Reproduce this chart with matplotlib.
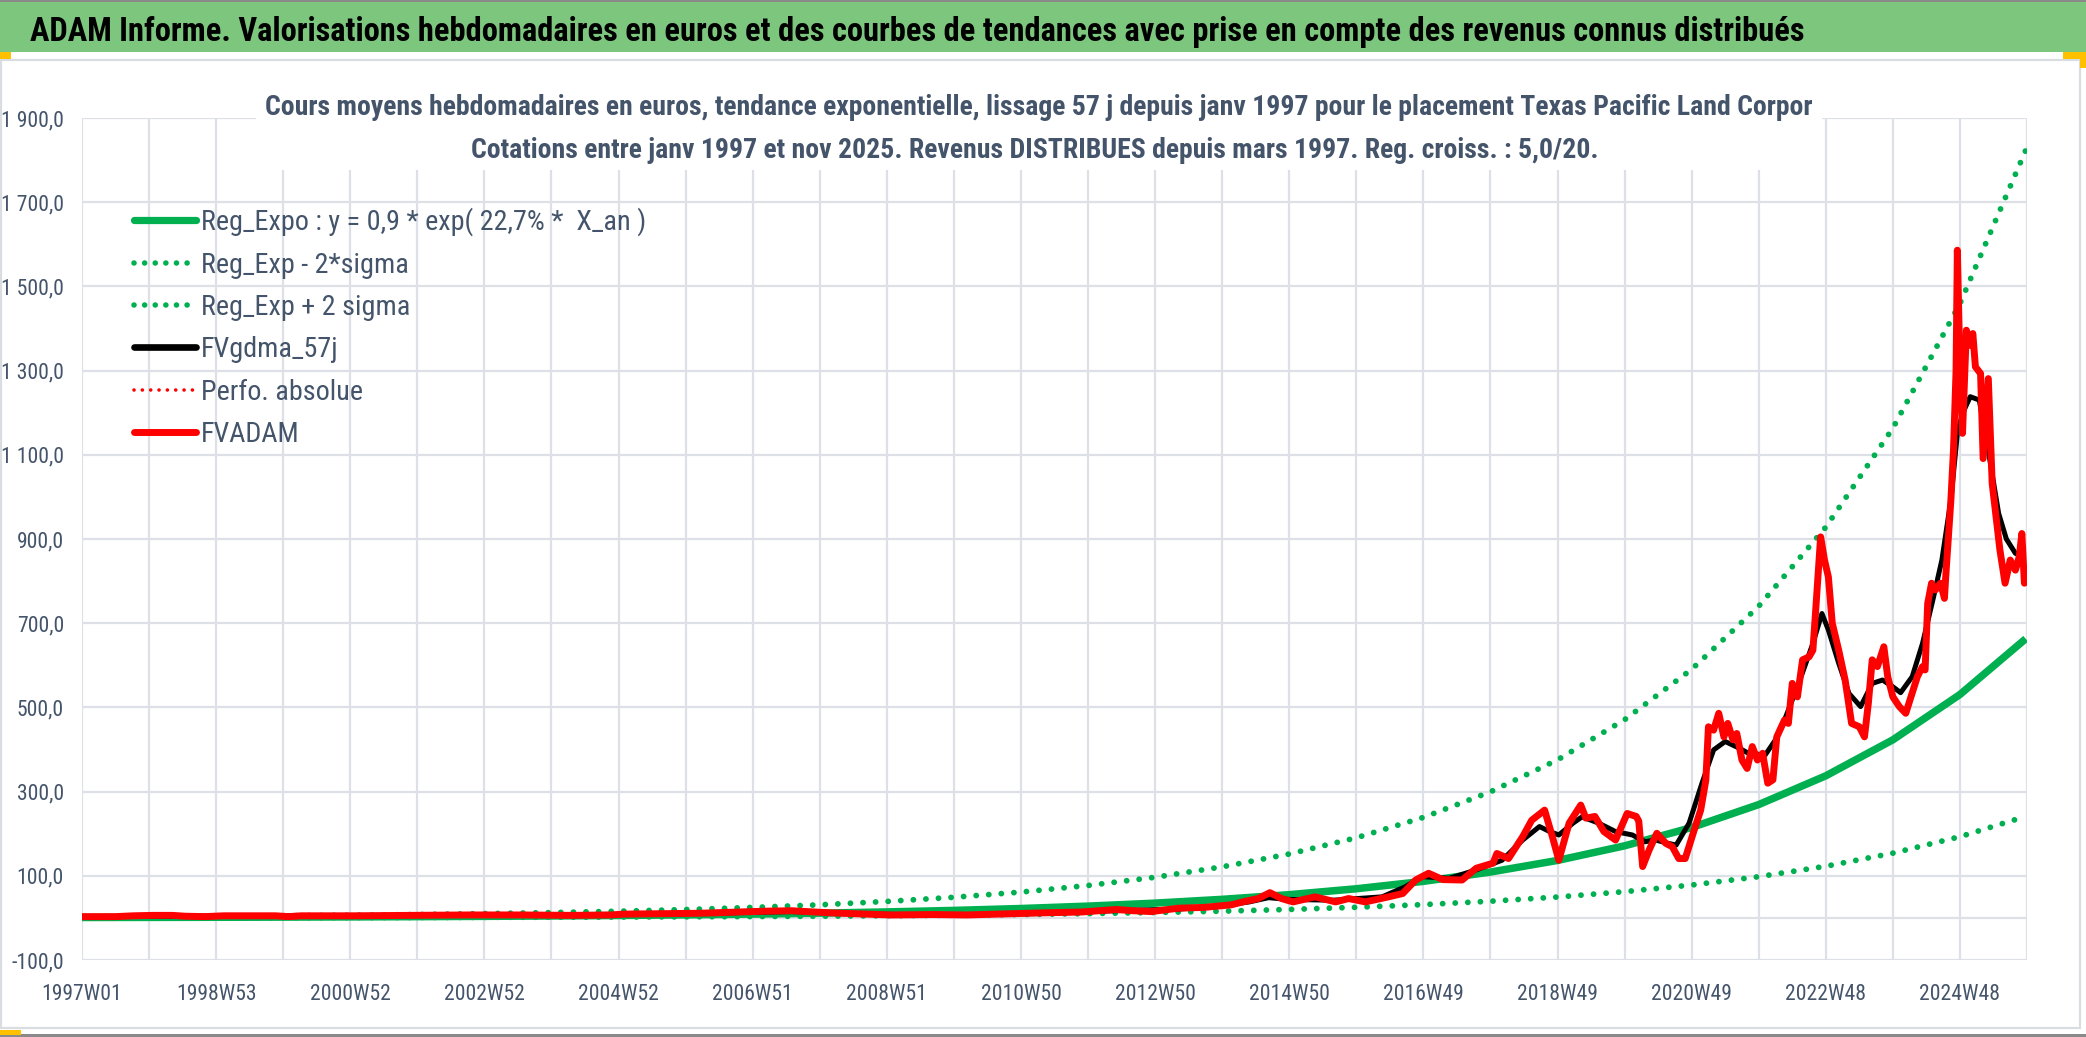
import matplotlib
matplotlib.use("Agg")
import matplotlib.pyplot as plt
from matplotlib import font_manager as fm
from matplotlib.patches import Rectangle
from matplotlib.lines import Line2D

# ---------------- data ----------------
title = ("ADAM Informe. Valorisations hebdomadaires en euros et des courbes de tendances "
         "avec prise en compte des revenus connus distribués")
subtitle1 = ("Cours moyens hebdomadaires en euros, tendance exponentielle, lissage 57 j depuis "
             "janv 1997 pour le placement Texas Pacific Land Corpor")
subtitle2 = ("Cotations entre janv 1997 et nov 2025. Revenus DISTRIBUES depuis mars 1997. "
             "Reg. croiss. : 5,0/20.")

legend_labels = ["Reg_Expo : y = 0,9 * exp( 22,7% *  X_an )", "Reg_Exp - 2*sigma",
                 "Reg_Exp + 2 sigma", "FVgdma_57j", "Perfo. absolue", "FVADAM"]

# x tick labels (weekly category axis, one label every 104 weeks)
xtick_pos = [0, 104, 208, 312, 416, 520, 624, 728, 832, 936, 1040, 1144, 1248, 1352, 1456]
xtick_labels = ["1997W01", "1998W53", "2000W52", "2002W52", "2004W52", "2006W51", "2008W51",
                "2010W50", "2012W50", "2014W50", "2016W49", "2018W49", "2020W49", "2022W48",
                "2024W48"]
ytick_vals = [-100, 100, 300, 500, 700, 900, 1100, 1300, 1500, 1700, 1900]

# trend curves read at yearly week indices
trend_weeks = [0, 52, 104, 156, 208, 260, 312, 364, 416, 468, 520, 572, 624, 676, 728, 780,
               832, 884, 936, 988, 1040, 1092, 1144, 1196, 1248, 1300, 1352, 1404, 1456, 1507]
reg_expo = [0.94, 1.18, 1.48, 1.86, 2.33, 2.92, 3.66, 4.59, 5.75, 7.21, 9.05, 11.3, 14.2, 17.8,
            22.3, 28.0, 35.1, 44.1, 55.2, 69.2, 86.8, 108.9, 136.5, 171.2, 214.7, 269.2, 337.5,
            423.0, 530.6, 663.0]
reg_minus = [0.34, 0.43, 0.54, 0.68, 0.85, 1.06, 1.33, 1.67, 2.09, 2.62, 3.29, 4.11, 5.16, 6.47,
             8.11, 10.2, 12.8, 16.0, 20.1, 25.2, 31.6, 39.6, 49.6, 62.3, 78.1, 97.9, 122.7,
             153.8, 192.9, 241.1]
reg_plus = [2.6, 3.2, 4.1, 5.1, 6.4, 8.0, 10.1, 12.6, 15.8, 19.8, 24.9, 31.1, 39.1, 49.0, 61.3,
            77.0, 96.5, 121.3, 151.8, 190.3, 238.7, 299.5, 375.4, 470.8, 590.4, 740.3, 928.1,
            1163.3, 1459.2, 1823.3]

# FVADAM weekly valuation (read at selected weeks)
fv_weeks = [0, 26, 40, 55, 70, 80, 95, 110, 150, 160, 170, 210, 260, 300, 340, 380, 410, 420,
            450, 479, 510, 530, 550, 580, 609, 627, 660, 686, 720, 745, 775, 802, 815, 829, 850,
            870, 891, 900, 912, 921, 930, 939, 956, 972, 982, 995, 1013, 1024, 1034, 1044, 1055,
            1070, 1081, 1094, 1097, 1106, 1117, 1124, 1134, 1140, 1145, 1153, 1162, 1166, 1173,
            1180, 1189, 1198, 1205, 1207, 1210, 1215, 1221, 1228, 1233, 1238, 1243, 1250, 1255,
            1259, 1261, 1265, 1269, 1273, 1276, 1280, 1283, 1287, 1291, 1295, 1299, 1303, 1307,
            1311, 1314, 1320, 1323, 1326, 1330, 1334, 1339, 1342, 1344, 1348, 1351, 1354, 1357,
            1362, 1367, 1372, 1378, 1382, 1385, 1388, 1392, 1397, 1400, 1404, 1409, 1414, 1418,
            1423, 1427, 1429, 1431, 1434, 1437, 1441, 1444, 1445, 1449, 1451, 1453, 1454, 1456,
            1458, 1461, 1464, 1466, 1468, 1472, 1474, 1478, 1481, 1484, 1487, 1491, 1495, 1499,
            1502, 1504, 1506, 1507]
fv_values = [3, 3, 5, 6, 6, 4, 3, 5, 5, 3, 5, 5, 6, 7, 7, 6, 7, 9,
             10, 11, 14, 16, 17, 12, 9, 7, 8, 7, 10, 12, 14, 20, 17, 15, 23,
             25, 31, 38, 46, 60, 46, 38, 50, 38, 46, 38, 50, 58, 90, 106, 91,
             90, 118, 130, 153, 141, 193, 232, 256, 193, 137, 225, 268, 237, 241,
             205, 185, 248, 241, 230, 122, 161, 201, 177, 169, 141, 141, 209, 256,
             327, 454, 446, 486, 430, 462, 423, 438, 375, 355, 407, 375, 391, 320,
             328, 430, 470, 462, 557, 525, 613, 620, 636, 723, 905, 850, 810, 700,
             636, 565, 462, 454, 430, 510, 613, 597, 644, 573, 525, 502, 486, 525,
             573, 597, 589, 747, 795, 779, 795, 759, 811, 993, 1111, 1300, 1586, 1309,
             1151, 1396, 1360, 1388, 1309, 1293, 1091, 1281, 1032, 953, 874, 795, 850, 826,
             858, 913, 795, 800]

# FVgdma_57j smoothed valuation (read at selected weeks)
ma_weeks = [0, 100, 200, 300, 400, 450, 500, 550, 600, 650, 700, 750, 800, 850, 880, 905, 920,
            935, 970, 1008, 1026, 1039, 1060, 1081, 1101, 1117, 1130, 1138, 1145, 1156, 1163,
            1176, 1189, 1202, 1212, 1220, 1230, 1236, 1246, 1256, 1265, 1274, 1285, 1292, 1305,
            1313, 1321, 1331, 1342, 1349, 1354, 1362, 1370, 1379, 1388, 1396, 1404, 1410, 1419,
            1427, 1435, 1442, 1449, 1454, 1458, 1464, 1471, 1478, 1486, 1492, 1499, 1503]
ma_values = [3, 4, 5, 6, 7, 9, 12, 15, 10, 7, 8, 11, 17, 21, 27, 38, 48,
             44, 42, 50, 74, 98, 94, 114, 137, 185, 217, 205, 197, 225, 240,
             225, 205, 197, 181, 185, 177, 173, 225, 320, 399, 419, 403, 391, 387,
             423, 478, 557, 652, 723, 684, 605, 533, 502, 557, 565, 549, 535, 573,
             652, 755, 850, 993, 1151, 1198, 1238, 1230, 1110, 961, 900, 866, 860]

# ---------------- style ----------------
W, H, DPI = 2086, 1037, 100
GREEN = "#00B050"
RED = "#FF0000"
GRID = "#DDE1E7"
TXT = "#44546A"

avail = {f.name for f in fm.fontManager.ttflist}
cands = ["Liberation Sans Narrow", "Roboto Condensed", "Open Sans Condensed",
         "Noto Sans Condensed", "Liberation Sans"]
FONT = next((c for c in cands if c in avail), "DejaVu Sans")
plt.rcParams["font.family"] = [FONT, "DejaVu Sans"]

fig = plt.figure(figsize=(W / DPI, H / DPI), dpi=DPI)
fig.patch.set_facecolor("white")


def fx(px):
    return px / W


def fy(py):
    return 1 - py / H


def extent(artist):
    fig.canvas.draw()
    return artist.get_window_extent(fig.canvas.get_renderer())


# decorations (spreadsheet frame)
fig.patches.append(Rectangle((0, fy(52)), 1, 52 / H, transform=fig.transFigure,
                             facecolor="#7DC67E", edgecolor="none", zorder=0))
fig.patches.append(Rectangle((0, fy(2)), 1, 2 / H, transform=fig.transFigure,
                             facecolor="#8A8A8A", edgecolor="none", zorder=0))
fig.patches.append(Rectangle((fx(1), fy(1028)), fx(2080) - fx(1), (1028 - 60) / H,
                             transform=fig.transFigure, facecolor="none",
                             edgecolor="#D9DCE1", lw=1.6, zorder=0))
fig.patches.append(Rectangle((0, 0), 1, 3 / H, transform=fig.transFigure,
                             facecolor="#8A8A8A", edgecolor="none", zorder=0))
for (x0, y0, x1, y1) in [(0, 52, 11, 59), (2063, 52, 2086, 59), (2080, 52, 2086, 68),
                         (0, 1030, 21, 1035)]:
    fig.patches.append(Rectangle((fx(x0), fy(y1)), (x1 - x0) / W, (y1 - y0) / H,
                                 transform=fig.transFigure, facecolor="#FFC000",
                                 edgecolor="none", zorder=5))

# ---------------- axes ----------------
ax = fig.add_axes([fx(82), fy(960), (2027 - 82) / W, (960 - 118) / H])
ax.set_facecolor("none")
for s in ax.spines.values():
    s.set_visible(False)
ax.set_xlim(0, 1508)
ax.set_ylim(-100, 1900)

ax.set_yticks(ytick_vals)
ax.set_yticklabels([f"{v:,.1f}".replace(",", " ").replace(".", ",") for v in ytick_vals])
grid_weeks = list(range(0, 1509, 52))
lab_map = dict(zip(xtick_pos, xtick_labels))
ax.set_xticks(grid_weeks)
ax.set_xticklabels([lab_map.get(w, "") for w in grid_weeks])
ax.grid(True, color=GRID, lw=1.6, zorder=0)
ax.axhline(0, color=GRID, lw=1.6, zorder=0.5)

tmp = fig.text(0.5, 0.5, "1997W01", fontsize=10)
tick_fs = 10 * 80 / extent(tmp).width
tmp.remove()
ax.tick_params(axis="both", length=0, labelsize=tick_fs, labelcolor=TXT)
ax.tick_params(axis="y", pad=13)
ax.tick_params(axis="x", pad=17)

dot = (0, (0.01, 2.15))
ax.plot(trend_weeks, reg_expo, color=GREEN, lw=5.4, solid_capstyle="butt", zorder=2)
ax.plot(trend_weeks, reg_minus, color=GREEN, lw=4.2, linestyle=dot,
        dash_capstyle="round", zorder=2)
ax.plot(trend_weeks, reg_plus, color=GREEN, lw=4.2, linestyle=dot,
        dash_capstyle="round", zorder=2)
ax.plot(ma_weeks, ma_values, color="black", lw=3.6, zorder=3)
ax.plot(fv_weeks, fv_values, color=RED, lw=2.0, linestyle=(0, (0.01, 2.2)),
        dash_capstyle="round", zorder=3.5)
ax.plot(fv_weeks, fv_values, color=RED, lw=5.0, solid_joinstyle="round", zorder=4)

# ---------------- legend ----------------
handles = [Line2D([], [], color=GREEN, lw=5.2, solid_capstyle="round"),
           Line2D([], [], color=GREEN, lw=4.0, linestyle=(0, (0.01, 1.9)),
                  dash_capstyle="round"),
           Line2D([], [], color=GREEN, lw=4.0, linestyle=(0, (0.01, 1.9)),
                  dash_capstyle="round"),
           Line2D([], [], color="black", lw=4.8, solid_capstyle="round"),
           Line2D([], [], color=RED, lw=2.6, linestyle=(0, (0.01, 2.3)),
                  dash_capstyle="round"),
           Line2D([], [], color=RED, lw=5.0, solid_capstyle="round")]


def make_legend(fs, ls, hl, htp, anchor):
    lg = ax.legend(handles, legend_labels, loc="upper left", bbox_to_anchor=anchor,
                   bbox_transform=fig.transFigure, frameon=False, fontsize=fs,
                   labelspacing=ls, handlelength=hl, handletextpad=htp, borderpad=0,
                   borderaxespad=0, labelcolor=TXT)
    lg.set_zorder(6)
    return lg


anchor = (fx(134), fy(200))
leg = make_legend(16, 0.5, 3, 0.3, anchor)
fs = 16 * 446 / extent(leg.get_texts()[0]).width
fpx = fs * DPI / 72
leg = make_legend(fs, 0.5, 62 / fpx, 5 / fpx, anchor)
c0 = extent(leg.get_texts()[0])
c1 = extent(leg.get_texts()[1])
pitch = (c0.y0 + c0.y1) / 2 - (c1.y0 + c1.y1) / 2
h = pitch - 0.5 * fpx
ls = max(0.0, (43.2 - h) / fpx)
leg = make_legend(fs, ls, 62 / fpx, 5 / fpx, anchor)
b0 = extent(leg.get_texts()[0])
dy = (H - 222) - (b0.y0 + b0.y1) / 2
dx = 201 - b0.x0
anchor = (anchor[0] + dx / W, anchor[1] + dy / H)
leg = make_legend(fs, ls, 62 / fpx, 5 / fpx, anchor)

# ---------------- titles ----------------
tt = fig.text(fx(30), fy(41), title, fontsize=20, fontweight="bold", color="black",
              ha="left", va="baseline", zorder=6)
tt.set_fontsize(20 * 1775 / extent(tt).width)

fig.patches.append(Rectangle((fx(256), fy(170)), (1822 - 256) / W, (170 - 62) / H,
                             transform=fig.transFigure, facecolor="white",
                             edgecolor="none", zorder=1))
s1 = fig.text(fx(1039), fy(115), subtitle1, fontsize=16, fontweight="bold", color=TXT,
              ha="center", va="baseline", zorder=6)
sfs = 16 * 1546 / extent(s1).width
s1.set_fontsize(sfs)
s2 = fig.text(fx(1035), fy(158), subtitle2, fontsize=sfs, fontweight="bold", color=TXT,
              ha="center", va="baseline", zorder=6)

fig.savefig("out.png", dpi=DPI, facecolor="white")
